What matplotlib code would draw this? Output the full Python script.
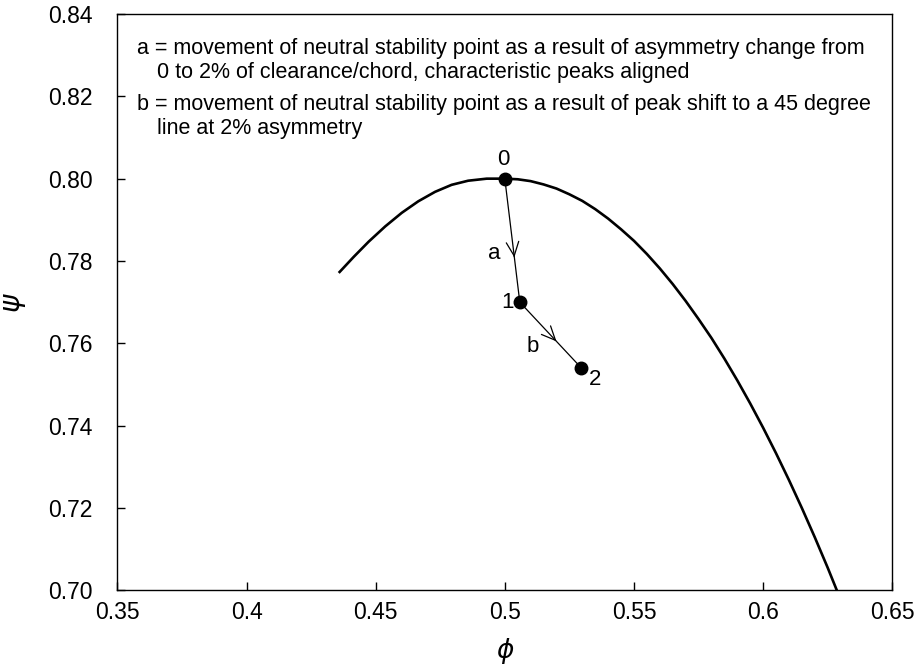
import matplotlib
matplotlib.use("Agg")
import matplotlib.pyplot as plt

plt.rcParams['font.family'] = ['Liberation Sans', 'DejaVu Sans']

# characteristic curve
curve_phi = [0.4357, 0.4415, 0.4473, 0.4537, 0.4601, 0.4665, 0.4730, 0.4794, 0.4858, 0.4930,
             0.5000, 0.5050, 0.5100, 0.5150, 0.5200, 0.5250, 0.5300, 0.5350, 0.5400, 0.5450,
             0.5500, 0.5550, 0.5600, 0.5650, 0.5700, 0.5750, 0.5800, 0.5850, 0.5900, 0.5950,
             0.6000, 0.6050, 0.6100, 0.6150, 0.6200, 0.6250, 0.6288]
curve_psi = [0.7771, 0.7810, 0.7847, 0.7884, 0.7917, 0.7945, 0.7968, 0.7985, 0.7995, 0.8000,
             0.8000, 0.79985, 0.7994, 0.7986, 0.7976, 0.7962, 0.7946, 0.7926, 0.7903, 0.7877,
             0.7849, 0.7817, 0.7782, 0.7744, 0.7703, 0.7659, 0.7613, 0.7563, 0.7510, 0.7454,
             0.7395, 0.7333, 0.7268, 0.7200, 0.7129, 0.7055, 0.6996]

# neutral stability points
pt_phi = [0.500, 0.5058, 0.5295]
pt_psi = [0.800, 0.7700, 0.7541]
pt_labels = ['0', '1', '2']

x_ticks = [0.35, 0.40, 0.45, 0.50, 0.55, 0.60, 0.65]
x_ticklabels = ['0.35', '0.4', '0.45', '0.5', '0.55', '0.6', '0.65']
y_ticks = [0.70, 0.72, 0.74, 0.76, 0.78, 0.80, 0.82, 0.84]
y_ticklabels = ['0.70', '0.72', '0.74', '0.76', '0.78', '0.80', '0.82', '0.84']

note_lines = [
    "a = movement of neutral stability point as a result of asymmetry change from",
    "0 to 2% of clearance/chord, characteristic peaks aligned",
    "b = movement of neutral stability point as a result of peak shift to a 45 degree",
    "line at 2% asymmetry",
]

fig = plt.figure(figsize=(9.17, 6.67), dpi=100)
ax = fig.add_axes([0.128, 0.115, 0.845, 0.864])

ax.plot(curve_phi, curve_psi, color='black', lw=1.9, solid_capstyle='butt', solid_joinstyle='round')
ax.plot(pt_phi, pt_psi, color='black', lw=0.9)
ax.plot(pt_phi, pt_psi, 'o', color='black', markersize=9)

# arrowheads along path
def arrow_mid(p0, p1, frac):
    xa = p0[0] + (p1[0] - p0[0]) * (frac - 0.05)
    ya = p0[1] + (p1[1] - p0[1]) * (frac - 0.05)
    xb = p0[0] + (p1[0] - p0[0]) * frac
    yb = p0[1] + (p1[1] - p0[1]) * frac
    ax.annotate('', xy=(xb, yb), xytext=(xa, ya),
                arrowprops=dict(arrowstyle='->,head_length=1.0,head_width=0.45', lw=0.9, color='black'))

arrow_mid((pt_phi[0], pt_psi[0]), (pt_phi[1], pt_psi[1]), 0.66)
arrow_mid((pt_phi[1], pt_psi[1]), (pt_phi[2], pt_psi[2]), 0.60)

fs_lab = 16
ax.text(pt_phi[0] - 0.0005, pt_psi[0] + 0.0022, pt_labels[0], fontsize=fs_lab, ha='center', va='bottom')
ax.text(pt_phi[1] - 0.0025, pt_psi[1], pt_labels[1], fontsize=fs_lab, ha='right', va='center')
ax.text(pt_phi[2] + 0.0030, pt_psi[2] - 0.0028, pt_labels[2], fontsize=fs_lab, ha='left', va='center')
ax.text(0.4985, 0.7818, 'a', fontsize=fs_lab, ha='right', va='center')
ax.text(0.5132, 0.7592, 'b', fontsize=fs_lab, ha='right', va='center')

fs_note = 15.5
ax.text(0.3575, 0.8317, note_lines[0], fontsize=fs_note, ha='left', va='center')
ax.text(0.3655, 0.8259, note_lines[1], fontsize=fs_note, ha='left', va='center')
ax.text(0.3575, 0.8181, note_lines[2], fontsize=fs_note, ha='left', va='center')
ax.text(0.3655, 0.8123, note_lines[3], fontsize=fs_note, ha='left', va='center')

ax.set_xlim(0.35, 0.65)
ax.set_ylim(0.70, 0.84)
ax.set_xticks(x_ticks)
ax.set_xticklabels(x_ticklabels)
ax.set_yticks(y_ticks)
ax.set_yticklabels(y_ticklabels)
ax.tick_params(direction='in', length=6, width=1, labelsize=16.5)
ax.tick_params(axis='x', top=False, pad=8)
ax.tick_params(axis='y', right=False, pad=18)
for s in ax.spines.values():
    s.set_linewidth(1.0)

ax.set_xlabel(r'$\phi$', fontsize=19, labelpad=8)
ax.set_ylabel(r'$\psi$', fontsize=20, labelpad=14)

fig.savefig('out.png', dpi=100)
